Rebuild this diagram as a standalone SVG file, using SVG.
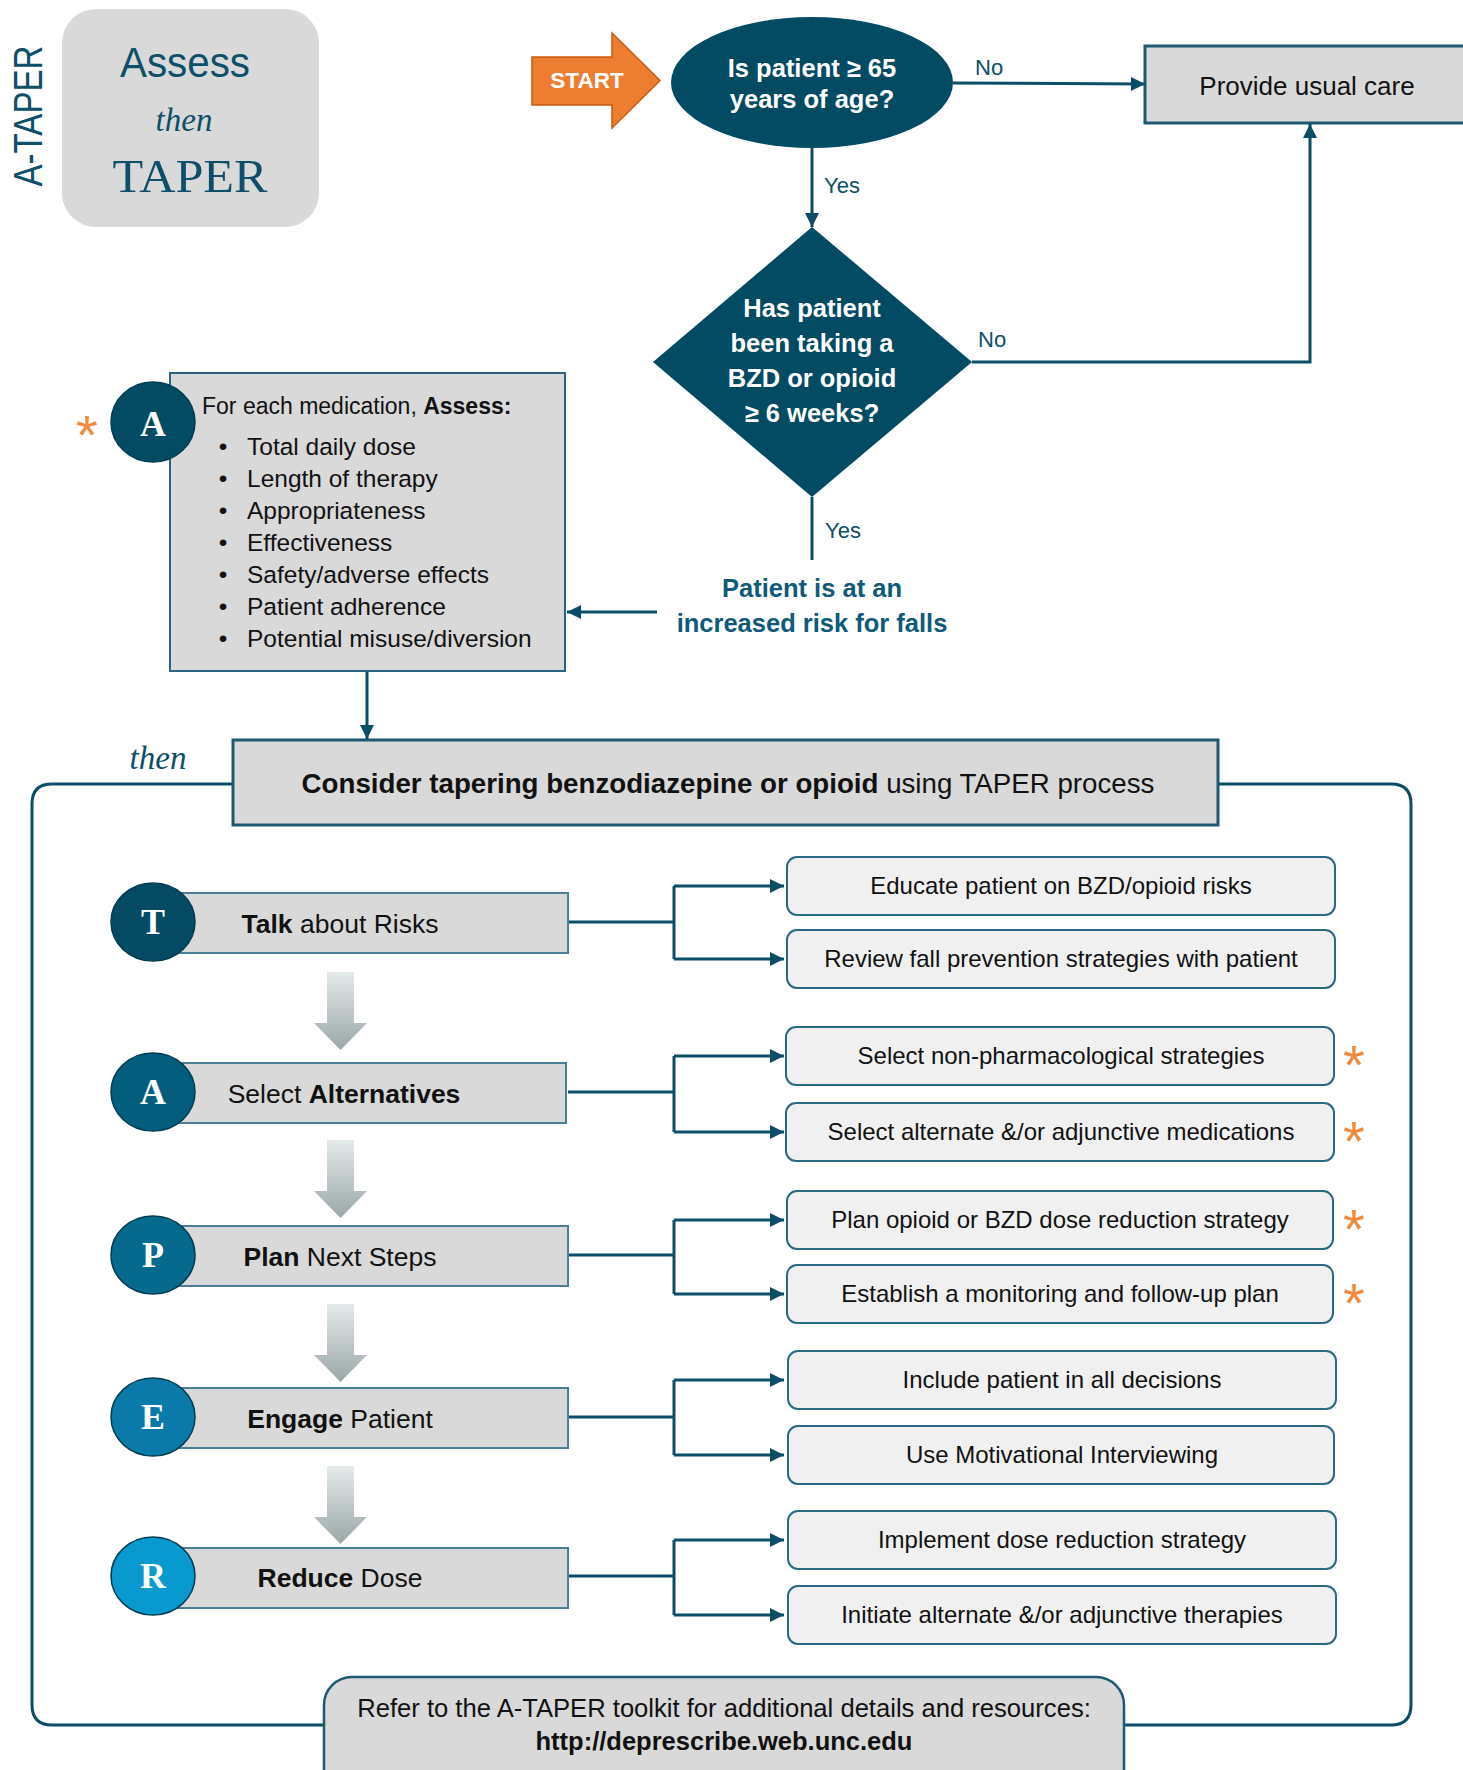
<svg xmlns="http://www.w3.org/2000/svg" width="1463" height="1770" viewBox="0 0 1463 1770">
<defs>
<marker id="ah" markerUnits="userSpaceOnUse" markerWidth="16" markerHeight="16" refX="14" refY="7" orient="auto"><path d="M0,0 L14,7 L0,14 Z" fill="#0b4d66"/></marker>
<linearGradient id="gg" x1="0" y1="0" x2="0" y2="1"><stop offset="0" stop-color="#e5eaea"/><stop offset="1" stop-color="#9aa7a7"/></linearGradient>
<path id="garrow" d="M13,0 H40 V51 H53 L26.5,78 L0,51 H13 Z"/>
</defs>
<style>
.sans{font-family:"Liberation Sans",Arial,sans-serif}
.serif{font-family:"Liberation Serif","Times New Roman",serif}
.teal{fill:#0d4f69}
.lbl{font-family:"Liberation Sans",Arial,sans-serif;font-size:22px;fill:#0d4f69}
.wb{font-family:"Liberation Sans",Arial,sans-serif;font-size:25.5px;font-weight:bold;fill:#ffffff;text-anchor:middle}
.conn{fill:none;stroke:#0b4d66;stroke-width:3}
.arr{fill:none;stroke:#0b4d66;stroke-width:3;marker-end:url(#ah)}
.gbox{fill:#d9d9d9;stroke:#1d5a72;stroke-width:3}
.bar{fill:#d9d9d9;stroke:#4a7f96;stroke-width:2}
.circ{stroke:#033c50;stroke-width:1.5}
.letter{font-family:"Liberation Serif","Times New Roman",serif;font-size:36px;font-weight:bold;fill:#ffffff;text-anchor:middle}
.rowtxt{font-family:"Liberation Sans",Arial,sans-serif;font-size:26.5px;fill:#111111;text-anchor:middle}
.rbox{fill:#f0f0f0;stroke:#2a6883;stroke-width:2}
.btxt{font-family:"Liberation Sans",Arial,sans-serif;font-size:24px;fill:#111111;text-anchor:middle}
.ast{font-family:"Liberation Sans",Arial,sans-serif;font-size:56px;fill:#f08a3c;text-anchor:middle}
.blt{font-family:"Liberation Sans",Arial,sans-serif;font-size:24.5px;fill:#111111}
.garr{fill:url(#gg)}
</style>

<g id="title">
<text class="sans teal" x="42" y="116" font-size="40" text-anchor="middle" textLength="141" lengthAdjust="spacingAndGlyphs" transform="rotate(-90 42 116)">A-TAPER</text>
<rect x="62" y="9" width="257" height="218" rx="34" fill="#d9d9d9"/>
<text class="sans teal" x="185" y="77" font-size="42" text-anchor="middle" textLength="130" lengthAdjust="spacingAndGlyphs">Assess</text>
<text class="serif teal" x="184" y="131" font-size="33" font-style="italic" text-anchor="middle">then</text>
<text class="serif teal" x="190" y="192" font-size="46" text-anchor="middle" textLength="155" lengthAdjust="spacingAndGlyphs">TAPER</text>
</g>

<g id="start">
<polygon points="532,57 612,57 612,33 660,80.5 612,128 612,105 532,105" fill="#ed7d31" stroke="#c55a11" stroke-width="1.5"/>
<text class="sans" x="587" y="88" font-size="22.5" font-weight="bold" fill="#ffffff" text-anchor="middle">START</text>
</g>

<g id="q-age">
<ellipse cx="812" cy="82.5" rx="141" ry="65.5" fill="#034b63"/>
<text class="wb" x="812" y="77">Is patient ≥ 65</text>
<text class="wb" x="812" y="108">years of age?</text>
</g>

<g id="usual-care">
<rect class="gbox" x="1145" y="46" width="330" height="77"/>
<text class="sans" x="1307" y="95" font-size="26" fill="#111111" text-anchor="middle">Provide usual care</text>
</g>

<g id="q-duration">
<polygon points="812,227 972,362 812,497 653,362" fill="#034b63"/>
<text class="wb" x="812" y="317">Has patient</text>
<text class="wb" x="812" y="352">been taking a</text>
<text class="wb" x="812" y="387">BZD or opioid</text>
<text class="wb" x="812" y="422">≥ 6 weeks?</text>
</g>

<g id="risk">
<text class="sans" x="812" y="597" font-size="25.5" font-weight="bold" fill="#0e5a78" text-anchor="middle">Patient is at an</text>
<text class="sans" x="812" y="632" font-size="25.5" font-weight="bold" fill="#0e5a78" text-anchor="middle">increased risk for falls</text>
</g>

<g id="assess">
<rect x="170" y="373" width="395" height="298" fill="#d9d9d9" stroke="#2b6480" stroke-width="2"/>
<ellipse class="circ" cx="153" cy="422" rx="42" ry="40" fill="#034b63"/>
<text class="letter" x="153" y="436">A</text>
<text class="ast" x="87" y="454">*</text>
<text class="sans" x="202" y="414" font-size="23" fill="#111111">For each medication, <tspan font-weight="bold">Assess:</tspan></text>
<text class="blt" x="223" y="455" text-anchor="middle">•</text><text class="blt" x="247" y="455">Total daily dose</text>
<text class="blt" x="223" y="487" text-anchor="middle">•</text><text class="blt" x="247" y="487">Length of therapy</text>
<text class="blt" x="223" y="519" text-anchor="middle">•</text><text class="blt" x="247" y="519">Appropriateness</text>
<text class="blt" x="223" y="551" text-anchor="middle">•</text><text class="blt" x="247" y="551">Effectiveness</text>
<text class="blt" x="223" y="583" text-anchor="middle">•</text><text class="blt" x="247" y="583">Safety/adverse effects</text>
<text class="blt" x="223" y="615" text-anchor="middle">•</text><text class="blt" x="247" y="615">Patient adherence</text>
<text class="blt" x="223" y="647" text-anchor="middle">•</text><text class="blt" x="247" y="647">Potential misuse/diversion</text>
</g>

<g id="frame">
<path class="conn" d="M233,784 H52 Q32,784 32,804 V1705 Q32,1725 52,1725 H1391 Q1411,1725 1411,1705 V804 Q1411,784 1391,784 H1218"/>
<text class="serif teal" x="158" y="769" font-size="33" font-style="italic" text-anchor="middle">then</text>
</g>

<g id="consider">
<rect class="gbox" x="233" y="740" width="985" height="85"/>
<text class="sans" x="728" y="793" font-size="27.7" fill="#111111" text-anchor="middle"><tspan font-weight="bold">Consider tapering benzodiazepine or opioid</tspan> using TAPER process</text>
</g>

<g id="connectors">
<path class="arr" d="M953,83 L1145,84"/>
<text class="lbl" x="975" y="75">No</text>
<path class="arr" d="M812,148 V227"/>
<text class="lbl" x="824" y="193">Yes</text>
<path class="arr" d="M972,362 H1310 V124"/>
<text class="lbl" x="978" y="347">No</text>
<path class="conn" d="M812,497 V560"/>
<text class="lbl" x="825" y="538">Yes</text>
<path class="arr" d="M657,612 H567"/>
<path class="arr" d="M367,672 V739"/>

<path class="conn" d="M568,922 H674 M674,886 V959"/>
<path class="arr" d="M674,886 H784"/>
<path class="arr" d="M674,959 H784"/>
<path class="conn" d="M568,1092 H674 M674,1056 V1132"/>
<path class="arr" d="M674,1056 H784"/>
<path class="arr" d="M674,1132 H784"/>
<path class="conn" d="M568,1255 H674 M674,1220 V1294"/>
<path class="arr" d="M674,1220 H784"/>
<path class="arr" d="M674,1294 H784"/>
<path class="conn" d="M568,1417 H674 M674,1380 V1455"/>
<path class="arr" d="M674,1380 H784"/>
<path class="arr" d="M674,1455 H784"/>
<path class="conn" d="M568,1576 H674 M674,1540 V1615"/>
<path class="arr" d="M674,1540 H784"/>
<path class="arr" d="M674,1615 H784"/>

<use href="#garrow" class="garr" x="314" y="972"/>
<use href="#garrow" class="garr" x="314" y="1140"/>
<use href="#garrow" class="garr" x="314" y="1304"/>
<use href="#garrow" class="garr" x="314" y="1466"/>
</g>

<g id="row-T">
<rect class="bar" x="160" y="893" width="408" height="60"/>
<ellipse class="circ" cx="153" cy="922" rx="42" ry="39" fill="#034a62"/>
<text class="letter" x="153" y="934">T</text>
<text class="rowtxt" x="340" y="933"><tspan font-weight="bold">Talk</tspan> about Risks</text>
</g>
<g id="row-A">
<rect class="bar" x="160" y="1063" width="406" height="60"/>
<ellipse class="circ" cx="153" cy="1092" rx="42" ry="39" fill="#035e7e"/>
<text class="letter" x="153" y="1104">A</text>
<text class="rowtxt" x="344" y="1103">Select <tspan font-weight="bold">Alternatives</tspan></text>
</g>
<g id="row-P">
<rect class="bar" x="160" y="1226" width="408" height="60"/>
<ellipse class="circ" cx="153" cy="1255" rx="42" ry="39" fill="#066a8f"/>
<text class="letter" x="153" y="1267">P</text>
<text class="rowtxt" x="340" y="1266"><tspan font-weight="bold">Plan</tspan> Next Steps</text>
</g>
<g id="row-E">
<rect class="bar" x="160" y="1388" width="408" height="60"/>
<ellipse class="circ" cx="153" cy="1417" rx="42" ry="39" fill="#0b7aa8"/>
<text class="letter" x="153" y="1429">E</text>
<text class="rowtxt" x="340" y="1428"><tspan font-weight="bold">Engage</tspan> Patient</text>
</g>
<g id="row-R">
<rect class="bar" x="160" y="1548" width="408" height="60"/>
<ellipse class="circ" cx="153" cy="1576" rx="42" ry="39" fill="#0899cf"/>
<text class="letter" x="153" y="1588">R</text>
<text class="rowtxt" x="340" y="1587"><tspan font-weight="bold">Reduce</tspan> Dose</text>
</g>

<g id="box-educate"><rect class="rbox" x="787" y="857" width="548" height="58" rx="10"/><text class="btxt" x="1061" y="894">Educate patient on BZD/opioid risks</text></g>
<g id="box-review"><rect class="rbox" x="787" y="930" width="548" height="58" rx="10"/><text class="btxt" x="1061" y="967">Review fall prevention strategies with patient</text></g>
<g id="box-nonpharm"><rect class="rbox" x="786" y="1027" width="548" height="58" rx="10"/><text class="btxt" x="1061" y="1064">Select non-pharmacological strategies</text><text class="ast" x="1354" y="1084">*</text></g>
<g id="box-alternate"><rect class="rbox" x="786" y="1103" width="548" height="58" rx="10"/><text class="btxt" x="1061" y="1140">Select alternate &amp;/or adjunctive medications</text><text class="ast" x="1354" y="1160">*</text></g>
<g id="box-plan"><rect class="rbox" x="787" y="1191" width="546" height="58" rx="10"/><text class="btxt" x="1060" y="1228">Plan opioid or BZD dose reduction strategy</text><text class="ast" x="1354" y="1248">*</text></g>
<g id="box-monitor"><rect class="rbox" x="787" y="1265" width="546" height="58" rx="10"/><text class="btxt" x="1060" y="1302">Establish a monitoring and follow-up plan</text><text class="ast" x="1354" y="1322">*</text></g>
<g id="box-include"><rect class="rbox" x="788" y="1351" width="548" height="58" rx="10"/><text class="btxt" x="1062" y="1388">Include patient in all decisions</text></g>
<g id="box-mi"><rect class="rbox" x="788" y="1426" width="546" height="58" rx="10"/><text class="btxt" x="1062" y="1463">Use Motivational Interviewing</text></g>
<g id="box-implement"><rect class="rbox" x="788" y="1511" width="548" height="58" rx="10"/><text class="btxt" x="1062" y="1548">Implement dose reduction strategy</text></g>
<g id="box-initiate"><rect class="rbox" x="788" y="1586" width="548" height="58" rx="10"/><text class="btxt" x="1062" y="1623">Initiate alternate &amp;/or adjunctive therapies</text></g>

<g id="refer">
<rect x="324" y="1677" width="800" height="130" rx="28" fill="#d9d9d9" stroke="#1d5a72" stroke-width="2.5"/>
<text class="sans" x="724" y="1717" font-size="25.6" fill="#111111" text-anchor="middle">Refer to the A-TAPER toolkit for additional details and resources:</text>
<text class="sans" x="724" y="1750" font-size="25.5" font-weight="bold" fill="#111111" text-anchor="middle">http://deprescribe.web.unc.edu</text>
</g>
</svg>
